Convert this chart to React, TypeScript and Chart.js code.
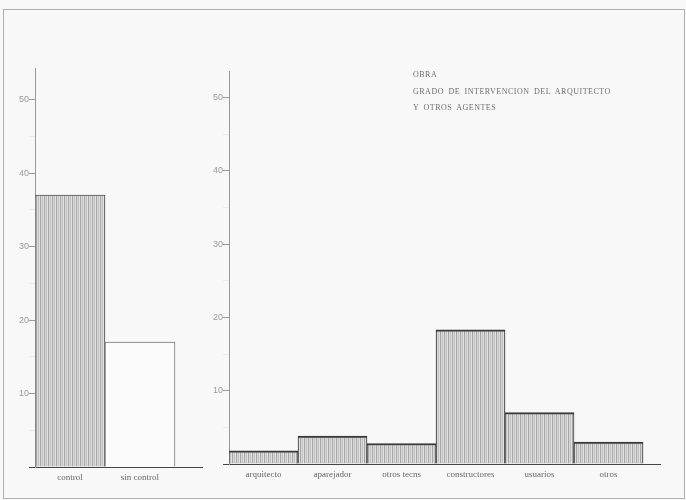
import React, { useEffect, useRef } from 'react';
import { Chart, registerables } from 'chart.js';

Chart.register(...registerables);

// ---- data ----
const leftCategories = ['control', 'sin control'];
const leftValues = [37, 17];
const rightCategories = ['arquitecto', 'aparejador', 'otros tecns', 'constructores', 'usuarios', 'otros'];
const rightValues = [1.8, 3.8, 2.8, 18.3, 7.0, 3.0];
const yTickValues = [0, 5, 10, 15, 20, 25, 30, 35, 40, 45, 50];
const titleLines = ['OBRA', 'GRADO DE INTERVENCION DEL ARQUITECTO', 'Y OTROS AGENTES'];

function makeHatch(): CanvasPattern | string {
  const c = document.createElement('canvas');
  c.width = 4;
  c.height = 4;
  const g = c.getContext('2d');
  if (!g) return '#c8c8c8';
  const cols = ['#a6a6a6', '#d8d8d8', '#c2c2c2', '#e0e0e0'];
  cols.forEach((col, i) => {
    g.fillStyle = col;
    g.fillRect(i, 0, 1, 4);
  });
  return g.createPattern(c, 'repeat') || '#c8c8c8';
}

type PanelProps = {
  categories: string[];
  values: number[];
  left: number;
  width: number;
  axisWidth: number;
  top: number;
  xHeight: number;
  rightPad: number;
  xMax: number;
  yMax: number;
  fills: ('hatch' | 'plain')[];
  borderColors: string[];
  borderWidth: any;
};

function Panel(p: PanelProps) {
  const ref = useRef<HTMLCanvasElement>(null);
  useEffect(() => {
    if (!ref.current) return;
    const hatch = makeHatch();
    const chart = new Chart(ref.current, {
      type: 'bar',
      data: {
        datasets: [
          {
            data: p.values.map((v, i) => ({ x: i + 0.5, y: v })),
            backgroundColor: p.fills.map((f) => (f === 'hatch' ? hatch : '#fbfbfb')) as any,
            borderColor: p.borderColors,
            borderWidth: p.borderWidth,
            borderSkipped: false,
            barPercentage: 1,
            categoryPercentage: 1,
          } as any,
        ],
      },
      options: {
        animation: false,
        responsive: false,
        maintainAspectRatio: false,
        layout: { padding: { top: p.top, right: p.rightPad, left: 0, bottom: 0 } },
        plugins: { legend: { display: false }, tooltip: { enabled: false } },
        scales: {
          x: {
            type: 'linear',
            offset: false,
            min: 0,
            max: p.xMax,
            afterBuildTicks: (s: any) => {
              s.ticks = p.categories.map((_, i) => ({ value: i + 0.5 }));
            },
            afterFit: (s: any) => {
              s.height = p.xHeight;
            },
            ticks: {
              callback: (_v: any, i: number) => p.categories[i],
              font: { family: '"Liberation Serif", serif', size: 9 },
              color: '#666',
              padding: 5,
              maxRotation: 0,
              autoSkip: false,
            },
            grid: { display: true, drawOnChartArea: false, drawTicks: false, offset: false },
            border: { display: true, color: '#444', width: 1 },
          } as any,
          y: {
            min: 0,
            max: p.yMax,
            afterBuildTicks: (s: any) => {
              s.ticks = yTickValues.map((v) => ({ value: v }));
            },
            afterFit: (s: any) => {
              s.width = p.axisWidth;
            },
            ticks: {
              callback: (v: any) => (v > 0 && v % 10 === 0 ? String(v) : ''),
              font: { family: '"Liberation Sans", sans-serif', size: 9 },
              color: '#9a9a9a',
              padding: 0,
            },
            grid: {
              drawOnChartArea: false,
              tickLength: 6,
              color: (ctx: any) => {
                const v = ctx.tick ? ctx.tick.value : 0;
                if (v === 0) return '#444';
                if (v % 10 === 0) return '#999';
                return '#ebebeb';
              },
            },
            border: { display: true, color: '#999', width: 1 },
          } as any,
        },
      },
    });
    return () => chart.destroy();
  }, []);
  return (
    <canvas
      ref={ref}
      width={p.width}
      height={500}
      style={{ position: 'absolute', left: p.left, top: 0, width: p.width, height: 500 }}
    />
  );
}

export default function App() {
  return (
    <div
      style={{
        position: 'fixed',
        left: 0,
        top: 0,
        width: 686,
        height: 500,
        background: '#f8f8f8',
        overflow: 'hidden',
      }}
    >
      <div
        style={{
          position: 'absolute',
          left: 3,
          top: 9,
          width: 680,
          height: 488,
          border: '1px solid #b0b0b0',
        }}
      />
      <Panel
        categories={leftCategories}
        values={leftValues}
        left={0}
        width={210}
        axisWidth={35}
        top={68}
        xHeight={33}
        rightPad={8}
        xMax={2.386}
        yMax={54.3}
        fills={['hatch', 'plain']}
        borderColors={['#555', '#777']}
        borderWidth={{ top: 1, left: 1, right: 1, bottom: 0 }}
      />
      <Panel
        categories={rightCategories}
        values={rightValues}
        left={200}
        width={486}
        axisWidth={29}
        top={71}
        xHeight={36}
        rightPad={26}
        xMax={6.246}
        yMax={53.6}
        fills={['hatch', 'hatch', 'hatch', 'hatch', 'hatch', 'hatch']}
        borderColors={['#3a3a3a', '#3a3a3a', '#3a3a3a', '#3a3a3a', '#3a3a3a', '#3a3a3a']}
        borderWidth={{ top: 2, left: 1, right: 1, bottom: 0 }}
      />
      <div
        style={{
          position: 'absolute',
          left: 413,
          top: 67,
          fontFamily: '"Liberation Serif", serif',
          fontSize: 8,
          letterSpacing: 0.5,
          wordSpacing: 2,
          color: '#6e6e6e',
          lineHeight: '16.5px',
          whiteSpace: 'nowrap',
        }}
      >
        {titleLines.map((t) => (
          <div key={t}>{t}</div>
        ))}
      </div>
    </div>
  );
}
